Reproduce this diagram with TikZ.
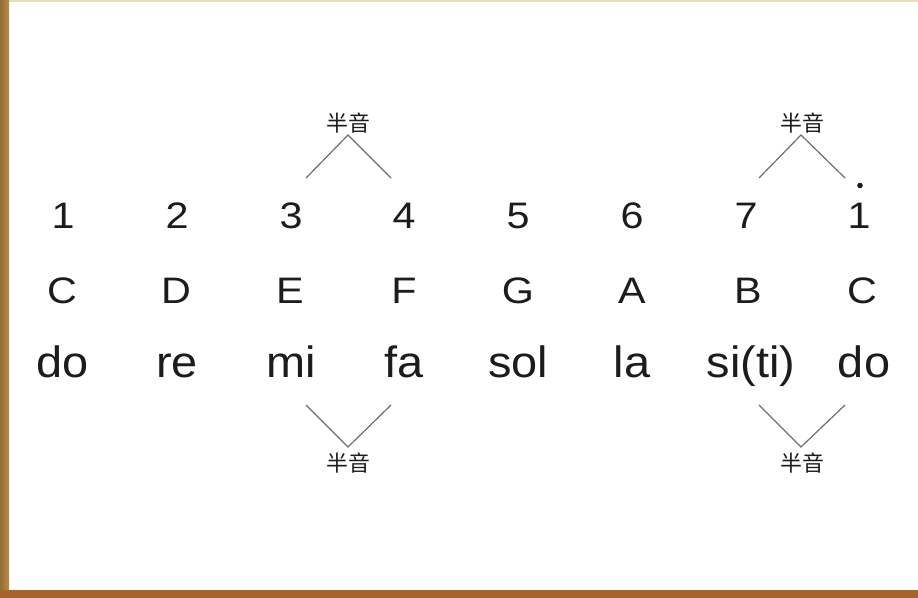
\documentclass[tikz,border=0pt]{standalone}
\usepackage{fontspec}
\setmainfont{Liberation Sans}
\newfontfamily\widefont{Liberation Sans}[FakeStretch=1.12]
\newfontfamily\solfont{Liberation Sans}[FakeStretch=1.07]
\newfontfamily\cjk{Noto Sans CJK SC}
\definecolor{ink}{HTML}{1C1C1C}
\definecolor{linegrey}{HTML}{6E6E6E}
\definecolor{woodL}{HTML}{B98B47}
\definecolor{woodB}{HTML}{A8632C}
\definecolor{woodT}{HTML}{E9DBB8}
\begin{document}
\begin{tikzpicture}[x=1bp,y=-1bp,
  num/.style={text=ink,font=\widefont\fontsize{37}{37}\selectfont,inner sep=0pt,anchor=base},
  let/.style={text=ink,font=\widefont\fontsize{37}{37}\selectfont,inner sep=0pt,anchor=base},
  sol/.style={text=ink,font=\solfont\fontsize{44}{44}\selectfont,inner sep=0pt,anchor=base},
  half/.style={text=ink,font=\cjk\fontsize{22}{22}\selectfont,inner sep=0pt},
  seg/.style={draw=linegrey,line width=1.2bp}]
\useasboundingbox (0,0) rectangle (918,598);
\fill[white] (0,0) rectangle (918,598);
\fill[woodT] (0,0) rectangle (918,2.5);
\shade[left color=woodL!80!black,right color=woodL] (0,0) rectangle (9,598);
\fill[woodB] (0,590) rectangle (918,598);
\fill[white!85!woodT] (9,588) rectangle (918,590);
% rows
\foreach \xa/\xb/\xc/\n/\l/\s [count=\k] in {63/62/63/1/C/do,177/176/177/2/D/re,291/290/291/3/E/mi,404/404/404/4/F/fa,518/518/518/5/G/sol,632/632/632/6/A/la,746/748/751/7/B/si(ti),859/862/864/1/C/do}{
  \node[num] (n\k) at (\xa,229) {\n};
  \node[let] (l\k) at (\xb,303) {\l};
  \node[sol] (s\k) at (\xc,377) {\s};
}
\fill[ink] (860,185.5) circle (2.8bp);
% half-step labels
\node[half] (h1) at (348,123) {半音};
\node[half] (h2) at (802,123) {半音};
\node[half] (h3) at (348,463) {半音};
\node[half] (h4) at (802,463) {半音};
\coordinate (a1) at (348,135); \coordinate (a2) at (801,135);
\coordinate (b1) at (348,447); \coordinate (b2) at (801,447);
\coordinate (t1l) at (306,178); \coordinate (t1r) at (391,178);
\coordinate (t2l) at (759,178); \coordinate (t2r) at (845,178);
\coordinate (u1l) at (306,405); \coordinate (u1r) at (391,405);
\coordinate (u2l) at (759,405); \coordinate (u2r) at (845,405);
\draw[seg] (t1l) -- (a1) -- (t1r);
\draw[seg] (t2l) -- (a2) -- (t2r);
\draw[seg] (u1l) -- (b1) -- (u1r);
\draw[seg] (u2l) -- (b2) -- (u2r);
\end{tikzpicture}
\end{document}
